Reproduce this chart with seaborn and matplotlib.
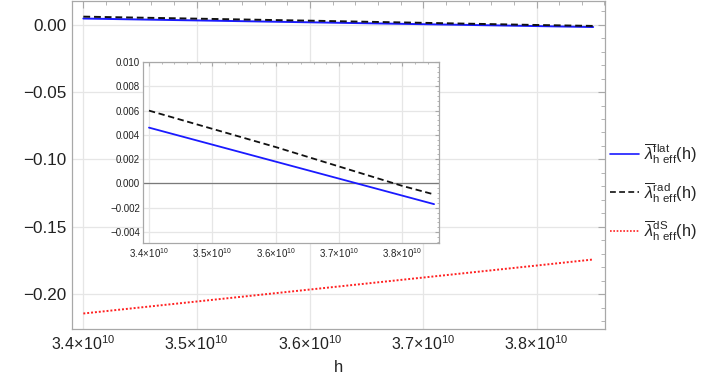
import numpy as np
import pandas as pd
import seaborn as sns
from matplotlib import pyplot as plt
from matplotlib.ticker import FuncFormatter, MultipleLocator, AutoMinorLocator

# valores
h_vals = [3.40e10, 3.50e10, 3.60e10, 3.70e10, 3.80e10, 3.85e10]
lam_flat = [0.0046, 0.0032, 0.0018, 0.0004, -0.0010, -0.0017]
lam_rad = [0.0060, 0.0045, 0.0030, 0.0014, -0.0002, -0.0009]
lam_ds = [-0.2144, -0.2055, -0.1966, -0.1877, -0.1788, -0.1743]

labels = [r'$\overline{\lambda}^{\mathrm{flat}}_{\mathrm{h\ eff}}(\mathrm{h})$',
          r'$\overline{\lambda}^{\mathrm{rad}}_{\mathrm{h\ eff}}(\mathrm{h})$',
          r'$\overline{\lambda}^{\mathrm{dS}}_{\mathrm{h\ eff}}(\mathrm{h})$']
colors = {labels[0]: '#1a1aff', labels[1]: '#111111', labels[2]: '#ff2020'}
styles = {labels[0]: '', labels[1]: (3.5, 2), labels[2]: (1, 1)}

df = pd.DataFrame({
    'h': h_vals * 3,
    'valor': lam_flat + lam_rad + lam_ds,
    'curva': [labels[0]] * 6 + [labels[1]] * 6 + [labels[2]] * 6,
})

sns.set_style('white')
plt.rcParams['font.family'] = ['Liberation Sans', 'DejaVu Sans']
plt.rcParams['mathtext.fontset'] = 'custom'
plt.rcParams['mathtext.rm'] = 'Liberation Sans'
plt.rcParams['mathtext.it'] = 'Liberation Sans:italic'
plt.rcParams['mathtext.bf'] = 'Liberation Sans:bold'

frame = '#a8a8a8'
grid = '#e6e6e6'


def fmt_x(v, _):
    return rf'${v / 1e10:.1f}\!\times\!10^{{10}}$'


def fmt_y(dec):
    def f(v, _):
        if abs(v) < 1e-12:
            v = 0.0
        return f'{v:.{dec}f}'.replace('-', '\u2212')
    return f


def style_axes(ax, xmaj, ymaj, xsize, ysize, tl):
    ax.xaxis.set_major_locator(MultipleLocator(xmaj))
    ax.yaxis.set_major_locator(MultipleLocator(ymaj))
    ax.xaxis.set_minor_locator(AutoMinorLocator(5))
    ax.yaxis.set_minor_locator(AutoMinorLocator(5))
    ax.xaxis.set_major_formatter(FuncFormatter(fmt_x))
    ax.grid(True, which='major', color=grid, lw=0.9)
    ax.set_axisbelow(True)
    for s in ax.spines.values():
        s.set_color(frame)
        s.set_linewidth(0.9)
    ax.tick_params(which='both', direction='in', top=True, right=True,
                   color=frame, labelcolor='#222222', pad=4)
    ax.tick_params(axis='x', labelsize=xsize)
    ax.tick_params(axis='y', labelsize=ysize)
    ax.tick_params(which='major', length=tl)
    ax.tick_params(which='minor', length=tl * 0.6)


fig = plt.figure(figsize=(7.06, 3.77), dpi=100)
ax = fig.add_axes([0.102, 0.127, 0.755, 0.871])

sns.lineplot(data=df, x='h', y='valor', hue='curva', style='curva',
             palette=colors, dashes=styles, linewidth=1.4, ax=ax, legend=True)
ax.set_xlim(3.39e10, 3.8605e10)
ax.set_ylim(-0.226, 0.0178)
style_axes(ax, 0.1e10, 0.05, 11.5, 12.3, 5)
ax.yaxis.set_major_formatter(FuncFormatter(fmt_y(2)))
ax.set_xlabel('h', fontsize=12, labelpad=5)
ax.set_ylabel('')

handles, labs = ax.get_legend_handles_labels()
ax.get_legend().remove()
for hd in handles:
    hd.set_linewidth(1.2)
fig.legend(handles, labs, loc='center left', bbox_to_anchor=(0.843, 0.49),
           frameon=False, fontsize=11.8, handlelength=1.75, handletextpad=0.35,
           labelspacing=0.85)

# gráfico interno (zoom perto do zero)
axin = fig.add_axes([0.2025, 0.3554, 0.4195, 0.4801])
axin.set_facecolor('white')
sub = df[df['curva'] != labels[2]]
sns.lineplot(data=sub, x='h', y='valor', hue='curva', style='curva',
             palette=colors, dashes=styles, linewidth=1.3, ax=axin, legend=False)
axin.axhline(0, color='#7a7a7a', lw=0.9, zorder=1.5)
axin.set_xlim(3.3905e10, 3.858e10)
axin.set_ylim(-0.0049, 0.010)
style_axes(axin, 0.1e10, 0.002, 7, 7, 3)
axin.yaxis.set_major_formatter(FuncFormatter(fmt_y(3)))
axin.tick_params(which='both', pad=2)
axin.set_xlabel('')
axin.set_ylabel('')

fig.savefig('out.png', dpi=100)
